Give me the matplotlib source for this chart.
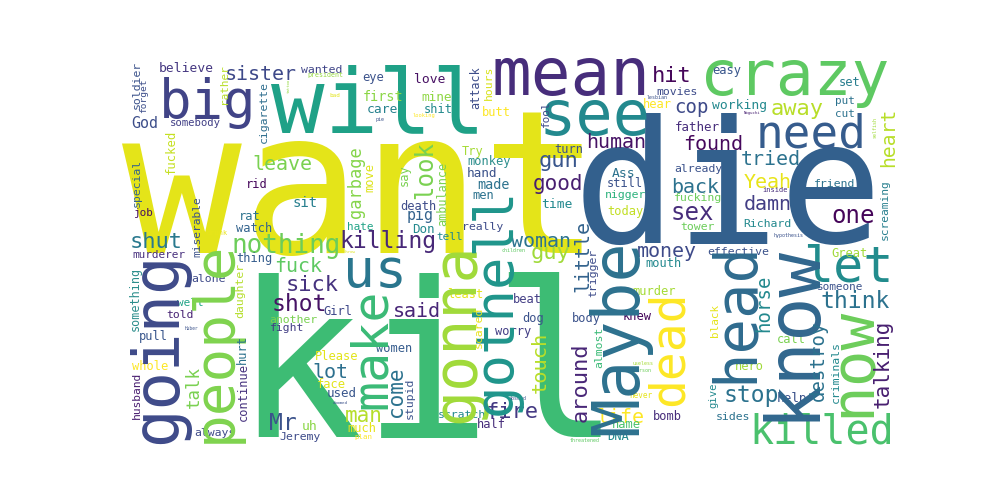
import matplotlib
matplotlib.use("Agg")
import matplotlib.pyplot as plt

# horizontal words: word, size (em in px), centre x, baseline y, colour
h_words = ["want", "kil", "die", "will", "mean", "crazy", "big", "see", "need", "us",
           "let", "killed", "nothing", "killing", "shut", "sister", "leave", "fuck", "sick", "shot",
           "lot", "Mr", "man", "woman", "guy", "said", "fire", "life", "gun", "good",
           "human", "hit", "cop", "away", "found", "tried", "Yeah", "back", "damn", "sex",
           "one", "money", "think", "stop",
           "believe", "wanted", "president", "eye", "God", "somebody", "rid", "sit", "job", "rat",
           "watch", "hate", "drunk", "murderer", "thing", "Girl", "alone", "well", "told", "another",
           "fight", "Huber", "pull", "Please", "women", "whole", "face", "used", "doomed", "uh",
           "much", "always", "Jeremy", "plan", "throw", "least", "beat", "dog", "body", "worry",
           "scratch", "half", "absurd", "threatened", "DNA", "name", "children", "love", "first", "mine",
           "care", "shit", "looking", "pie", "bad", "butt", "Try", "turn", "monkey", "hand",
           "made", "men", "death", "time", "pig", "really", "Don", "tell", "Ass", "still",
           "nigger", "today", "easy", "movies", "set", "lesbian", "hear", "working", "put", "cut",
           "Noguchi", "father", "already", "friend", "fucking", "inside", "Richard", "tower", "hypothesis", "effective",
           "Great", "mouth", "someone", "call", "hero", "help", "bomb", "sides", "murder", "knew",
           "useless", "person", "never"]
h_size = [199, 215, 172, 89, 66, 63, 54, 62, 46, 53,
          50, 40, 26, 23, 22, 20, 20, 20, 22, 23,
          20, 23, 21, 20, 22, 20, 22, 20, 22, 21,
          20, 22, 19, 22, 20, 20, 20, 20, 20, 24,
          24, 20, 23, 23,
          13, 11.5, 6.6, 12, 15, 10.6, 12, 14, 11, 12,
          12, 11, 7, 11, 12, 12, 11.5, 11, 11.4, 11.5,
          11.4, 4.5, 12, 12, 12, 12, 12, 12.5, 4.3, 13,
          12, 11.5, 11.5, 7.4, 4, 12, 12, 12, 12, 12,
          11.5, 12, 5, 5, 12, 12, 5, 13, 13.5, 12.7,
          13, 12, 5.4, 5, 6, 12, 12, 12, 12, 12.7,
          13.5, 12, 12, 13, 15, 11.5, 12.5, 11, 13, 12,
          11.5, 12, 12, 11.5, 12, 5, 12, 13, 11, 11,
          4, 12.5, 11.5, 11.5, 11.5, 7, 11.5, 11.5, 5, 11.5,
          12, 12, 11, 12, 12, 12.7, 12, 11.5, 12, 12,
          5, 5, 7.6]
h_x = [361, 427, 728, 378, 571, 795, 208, 595, 811, 375,
       848, 822, 286, 388, 156, 261, 282, 298, 312, 299,
       330, 283, 364, 541, 550, 417, 512, 620, 558, 558,
       616, 672, 692, 797, 713, 771, 768, 695, 768, 692,
       853, 667, 855, 751,
       186, 322, 325, 373, 145, 195, 257, 305, 144, 250,
       254, 360, 217, 159, 254, 338, 208, 190, 180, 293,
       287, 192, 153, 337, 394, 150, 331, 342, 340, 310,
       362, 215, 300, 363, 350, 465, 527, 533, 586, 513,
       462, 491, 518, 585, 618, 626, 513, 430, 383, 437,
       383, 438, 424, 380, 335, 496, 473, 569, 489, 482,
       493, 483, 418, 557, 420, 483, 423, 450, 624, 625,
       625, 625, 727, 677, 850, 657, 657, 740, 845, 845,
       752, 697, 698, 835, 698, 775, 767, 697, 788, 738,
       849, 664, 840, 791, 749, 792, 667, 733, 654, 637,
       643, 643, 641]
h_y = [253, 437, 243, 132, 95, 95, 118, 135, 148, 287,
       282, 443, 253, 248, 248, 80, 170, 272, 291, 311,
       378, 430, 422, 247, 259, 317, 418, 423, 167, 190,
       148, 82, 113, 115, 150, 165, 188, 193, 210, 220,
       223, 257, 308, 402,
       72, 73, 77, 81, 128, 126, 188, 207, 216, 220,
       232, 230, 235, 258, 262, 315, 282, 306, 318, 323,
       331, 330, 340, 360, 352, 370, 388, 397, 404, 430,
       432, 436, 440, 439, 253, 298, 303, 322, 322, 335,
       418, 428, 400, 442, 440, 428, 252, 83, 101, 101,
       113, 113, 117, 121, 97, 116, 155, 153, 165, 177,
       189, 199, 210, 208, 220, 230, 233, 240, 177, 187,
       198, 215, 74, 95, 86, 99, 108, 109, 104, 117,
       114, 131, 172, 187, 201, 192, 227, 230, 237, 255,
       257, 267, 290, 343, 370, 402, 420, 420, 295, 320,
       365, 372, 398]
h_color = ['#e4e419', '#3dbc74', '#33608d', '#1fa187', '#472d7b', '#5ec962', '#414487', '#23898e', '#365c8d', '#2a768e',
           '#228c8d', '#4ac16d', '#6ccd5a', '#482878', '#29798e', '#3e4989', '#7ad151', '#5ec962', '#46337f', '#471365',
           '#2d708e', '#3b528b', '#b5de2b', '#2c738e', '#a0da39', '#482677', '#443983', '#fde725', '#39568c', '#481f70',
           '#471365', '#46075a', '#3e4a89', '#b8de29', '#46085c', '#2c728e', '#e8e419', '#2c728e', '#433e85', '#472d7b',
           '#450559', '#3e4a89', '#2c728e', '#2c728e',
           '#453781', '#404588', '#95d840', '#3b528b', '#3d4e8a', '#424086', '#46085c', '#277f8e', '#470e61', '#2c738e',
           '#33638d', '#20a386', '#e8e419', '#472f7d', '#365d8d', '#3f4889', '#3e4a89', '#20a386', '#482374', '#7ad151',
           '#433e85', '#3b528b', '#39568c', '#e2e418', '#365c8d', '#fde725', '#e2e418', '#39568c', '#3b528b', '#8bd646',
           '#e7e419', '#3e4a89', '#3e4c8a', '#fde725', '#dde318', '#e5e419', '#433e85', '#3b528b', '#3b528b', '#433e85',
           '#23898e', '#472d7b', '#3b528b', '#5ec962', '#23898e', '#4ac16d', '#5ec962', '#471063', '#8bd646', '#8fd744',
           '#26828e', '#238a8d', '#fde725', '#3b528b', '#e2e418', '#fde725', '#a5db36', '#3b528b', '#2c8e8c', '#3b528b',
           '#2c728e', '#2c728e', '#3e4c8a', '#23898e', '#33638d', '#3e4c8a', '#23898e', '#23898e', '#2c728e', '#3b528b',
           '#2db27d', '#c2df23', '#39568c', '#3e4c8a', '#287d8e', '#3b528b', '#fde725', '#23898e', '#2c728e', '#2c728e',
           '#482173', '#472d7b', '#3b528b', '#2c728e', '#6ccd5a', '#472d7b', '#23898e', '#6ccd5a', '#3b528b', '#3b528b',
           '#a0da39', '#23898e', '#3b528b', '#7ad151', '#a0da39', '#3b528b', '#472d7b', '#2c728e', '#a5db36', '#450559',
           '#a5db36', '#6ccd5a', '#e5e419']

# vertical words (read bottom to top): word, size, baseline x, centre y, colour
v_words = ["going", "people", "make", "gonna", "gothell", "Maybe", "head", "know", "now", "dead",
           "talking", "destroy", "horse", "black", "criminals", "give", "heart", "selfish", "screaming", "fool",
           "attack", "hours", "look", "say", "ambulance", "little", "trigger", "scared", "touch", "almost",
           "around", "come", "stupid", "soldier", "forget", "rather", "cigarette", "tattoo", "fucked", "special",
           "garbage", "move", "miserable", "something", "daughter", "hurt", "continue", "husband", "talk"]
v_size = [64, 56, 50, 60, 54, 65, 59, 74, 61, 48,
          21, 19, 19, 11, 11.5, 10.5, 19.7, 5, 11.3, 11,
          11.7, 11.4, 24, 12, 11.7, 20, 11.5, 11.5, 20.4, 11.5,
          22, 21, 11.5, 11.5, 9.5, 11, 11.5, 4, 12.3, 11.5,
          17, 12, 11.3, 11.7, 11.5, 12, 12, 11.3, 17.5]
v_x = [176, 230, 386, 473, 511, 637, 752, 812, 870, 683,
       889, 824, 769, 718, 839, 716, 894, 877, 888, 549,
       479, 492, 432, 408, 446, 588, 596, 482, 546, 602,
       587, 402, 413, 140, 146, 227, 267, 290, 175, 140,
       361, 373, 200, 139, 243, 246, 247, 140, 199]
v_y = [348, 342, 349, 333, 301, 337, 312, 332, 362, 348,
       364, 361, 303, 320, 372, 395, 137, 128, 210, 114,
       88, 83, 170, 175, 194, 256, 273, 327, 362, 347,
       382, 392, 398, 85, 96, 84, 112, 86, 152, 183,
       182, 178, 227, 299, 290, 349, 392, 395, 387]
v_color = ['#3e4a89', '#7fd34e', '#3aba76', '#a0da39', '#1f958b', '#2d718e', '#2f6b8e', '#31678e', '#6ccd5a', '#fde725',
           '#481f70', '#2c728e', '#23898e', '#e5e419', '#23898e', '#23898e', '#b8de29', '#a0da39', '#277f8e', '#3e4a89',
           '#3d4d8a', '#d8e219', '#7ad151', '#7ad151', '#7ad151', '#33638d', '#3e4c8a', '#e8e419', '#b8de29', '#3aba76',
           '#482677', '#2c728e', '#3b528b', '#3b528b', '#3d4e8a', '#b8de29', '#2e6e8e', '#94d840', '#c5e021', '#33638d',
           '#85d54a', '#dde318', '#3b528b', '#2c8e8c', '#b5de2b', '#2c728e', '#46327e', '#481d6f', '#7ad151']

FONT = 'DejaVu Sans Mono'
PX2PT = 72 / 100  # figure is drawn at 100 dpi

fig = plt.figure(figsize=(10, 5), dpi=100)
ax = fig.add_axes([0, 0, 1, 1])
ax.set_xlim(0, 1000)
ax.set_ylim(500, 0)
ax.axis('off')

for w, s, x, y, c in zip(h_words, h_size, h_x, h_y, h_color):
    ax.text(x, y, w, fontsize=s * PX2PT, family=FONT, color=c,
            ha='center', va='baseline', rotation_mode='anchor')

for w, s, x, y, c in zip(v_words, v_size, v_x, v_y, v_color):
    ax.text(x, y, w, fontsize=s * PX2PT, family=FONT, color=c, rotation=90,
            ha='center', va='baseline', rotation_mode='anchor')

fig.savefig('out.png', dpi=100)
